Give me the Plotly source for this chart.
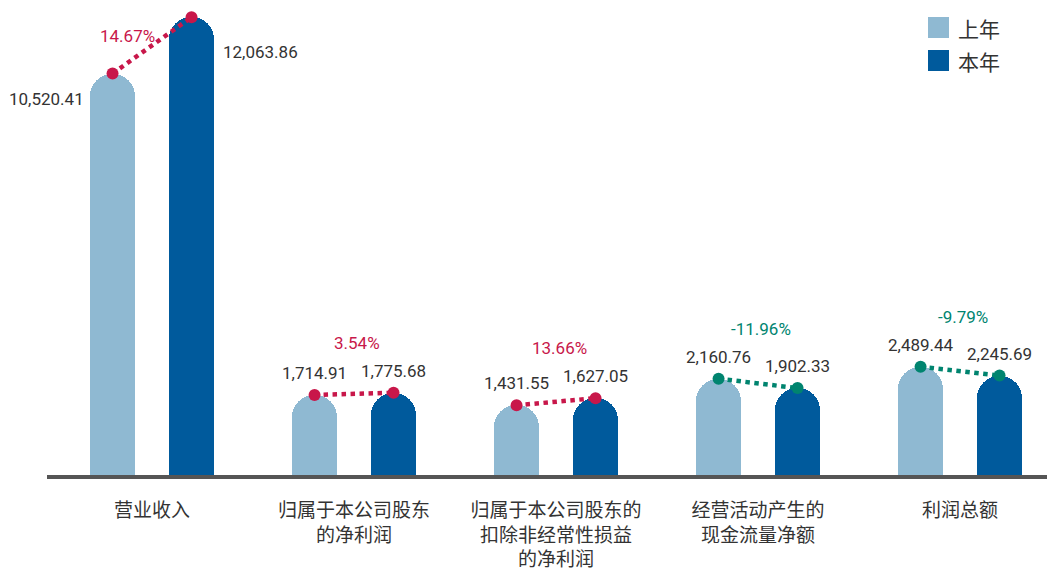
import plotly.graph_objects as go

categories = ['营业收入', '归属于本公司股东<br>的净利润', '归属于本公司股东的<br>扣除非经常性损益<br>的净利润',
              '经营活动产生的<br>现金流量净额', '利润总额']
last_year = [10520.41, 1714.91, 1431.55, 2160.76, 2489.44]
this_year = [12063.86, 1775.68, 1627.05, 1902.33, 2245.69]
series_names = ['上年', '本年']

LIGHT = '#8FB9D2'
DARK = '#005A9C'
UP = '#C8174A'
DOWN = '#00846F'
TEXT = '#333333'
NUM_FONT = 'Roboto, Noto Sans, sans-serif'
CJK_FONT = 'Noto Sans CJK SC, sans-serif'

# the page body adds an 8px margin, so the figure is drawn 8px smaller
PAGE_OFF = 8
W, H = 1055 - PAGE_OFF, 574 - PAGE_OFF
L, T, BOTTOM = 47 - PAGE_OFF, 10 - PAGE_OFF, 477 - PAGE_OFF

y_low = -533      # visible baseline sits below zero, like the original drawing
y_high = 12262
bar_base = -3000  # bars start under the plot area so their bottom is clipped square
off = 0.1955      # half distance between the two bars of a group
bw = 0.223        # bar width

xs = list(range(len(categories)))
x_last = [i - off for i in xs]
x_this = [i + off for i in xs]

fig = go.Figure()
fig.add_trace(go.Bar(x=x_last, y=[v - bar_base for v in last_year], base=bar_base, width=bw,
                     marker=dict(color=LIGHT, cornerradius=22, line=dict(width=0)),
                     name=series_names[0], showlegend=False))
fig.add_trace(go.Bar(x=x_this, y=[v - bar_base for v in this_year], base=bar_base, width=bw,
                     marker=dict(color=DARK, cornerradius=22, line=dict(width=0)),
                     name=series_names[1], showlegend=False))

# dotted change lines + labels
for i in xs:
    a, b = last_year[i], this_year[i]
    pct = (b / a - 1) * 100
    col = UP if pct >= 0 else DOWN
    fig.add_trace(go.Scatter(x=[x_last[i], x_this[i]], y=[a, b], mode='lines+markers',
                             line=dict(color=col, width=4.5, dash='dot'),
                             marker=dict(color=col, size=12), showlegend=False, hoverinfo='skip'))
    if i == 0:
        fig.add_annotation(x=x_last[i], y=a, text=f'{a:,.2f}', showarrow=False, xanchor='right',
                           xshift=-27, yshift=-25, font=dict(size=17, color=TEXT, family=NUM_FONT))
        fig.add_annotation(x=x_this[i], y=b, text=f'{b:,.2f}', showarrow=False, xanchor='left',
                           xshift=29, yshift=-35, font=dict(size=17, color=TEXT, family=NUM_FONT))
        fig.add_annotation(x=i, y=max(a, b), text=f'{pct:.2f}%', showarrow=False,
                           xshift=-25, yshift=-19, font=dict(size=17, color=col, family=NUM_FONT))
    else:
        fig.add_annotation(x=x_last[i], y=a, text=f'{a:,.2f}', showarrow=False,
                           yshift=22, font=dict(size=17, color=TEXT, family=NUM_FONT))
        fig.add_annotation(x=x_this[i], y=b, text=f'{b:,.2f}', showarrow=False,
                           yshift=22, font=dict(size=17, color=TEXT, family=NUM_FONT))
        fig.add_annotation(x=i, y=max(a, b), text=f'{pct:.2f}%', showarrow=False,
                           xshift=3, yshift=50, font=dict(size=17, color=col, family=NUM_FONT))

# baseline (paper-referenced so it is not clipped by the plot area)
fig.add_shape(type='line', xref='paper', yref='paper', x0=0, x1=1, y0=0, y1=0,
              line=dict(color='#555555', width=4), layer='above')

# legend drawn by hand (square swatches)
pw, ph = W - L, BOTTOM - T
def px(x):
    return (x - PAGE_OFF - L) / pw
def py(y):
    return (BOTTOM - (y - PAGE_OFF)) / ph
for k, (name, col) in enumerate(zip(series_names, [LIGHT, DARK])):
    y0 = 17 + k * 33
    fig.add_shape(type='rect', xref='paper', yref='paper', x0=px(928), x1=px(949),
                  y0=py(y0 + 21), y1=py(y0), fillcolor=col, line=dict(width=0))
    fig.add_annotation(xref='paper', yref='paper', x=px(956), y=py(y0 + 11), text=name,
                       showarrow=False, xanchor='left', yanchor='middle',
                       font=dict(size=21, color=TEXT, family=CJK_FONT))

fig.update_layout(
    width=W, height=H,
    margin=dict(l=L, r=0, t=T, b=H - BOTTOM),
    plot_bgcolor='white', paper_bgcolor='white',
    xaxis=dict(range=[-0.52, 4.47], tickvals=xs, ticktext=categories, showgrid=False,
               zeroline=False, showline=False, ticks='', ticklabelstandoff=20,
               tickfont=dict(size=19, color=TEXT, family=CJK_FONT)),
    yaxis=dict(range=[y_low, y_high], visible=False),
    bargap=0,
)

fig.write_html('out.html')
